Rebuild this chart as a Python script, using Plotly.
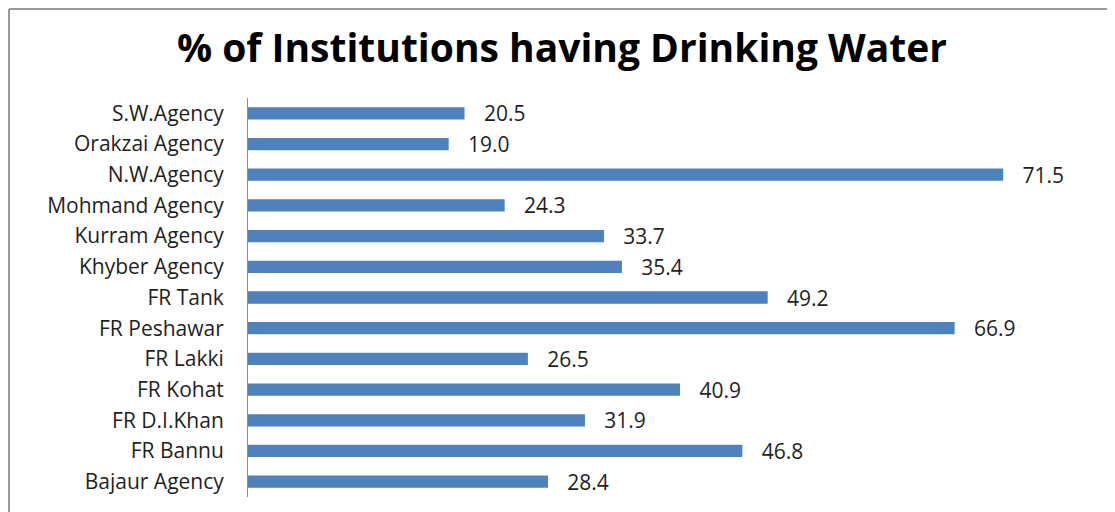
import plotly.graph_objects as go

categories = ["S.W.Agency", "Orakzai Agency", "N.W.Agency", "Mohmand Agency",
              "Kurram Agency", "Khyber Agency", "FR Tank", "FR Peshawar",
              "FR Lakki", "FR Kohat", "FR D.I.Khan", "FR Bannu", "Bajaur Agency"]
values = [20.5, 19.0, 71.5, 24.3, 33.7, 35.4, 49.2, 66.9, 26.5, 40.9, 31.9, 46.8, 28.4]
title_text = "% of Institutions having Drinking Water"

# page has an 8px body margin; figure sized to fill the rest of the window
W, H = 1107, 504
L, R, T, B = 240, 22, 90, 15
pw, ph = W - L - R, H - T - B
FONT = "Open Sans"
TXT = "#1f1f1f"

def px_x(x):
    return (x - L) / pw

def px_y(y):
    return (H - B - y) / ph

fig = go.Figure(go.Bar(
    x=values, y=categories, orientation="h",
    marker=dict(color="#4F81BD", line=dict(width=0)),
    width=0.4,
    text=values, texttemplate="\u00a0\u00a0\u00a0%{x:.1f}", textposition="outside",
    constraintext="none",
    textfont=dict(size=21, color=TXT, family=FONT),
    cliponaxis=False,
))

fig.update_layout(
    width=W, height=H,
    margin=dict(l=L, r=R, t=T, b=B),
    plot_bgcolor="white", paper_bgcolor="white",
    showlegend=False,
    title=dict(text=f"<b>{title_text}</b>", x=px_x(562 - 8), xanchor="center",
               xref="paper", y=1 - 40 / H, yanchor="middle",
               font=dict(size=39, color="#000000", family=FONT)),
    xaxis=dict(range=[0, 80], visible=False, showgrid=False, zeroline=False),
    yaxis=dict(autorange="reversed", showline=True, linecolor="#8c8c8c", linewidth=1,
               ticks="", showgrid=False, ticklabelstandoff=19,
               tickfont=dict(size=21, color=TXT, family=FONT)),
    shapes=[
        dict(type="line", xref="paper", yref="paper",
             x0=px_x(1), x1=px_x(1), y0=px_y(1), y1=px_y(H),
             line=dict(color="#9a9a9a", width=2)),
        dict(type="line", xref="paper", yref="paper",
             x0=px_x(1), x1=px_x(1106), y0=px_y(1), y1=px_y(1),
             line=dict(color="#9a9a9a", width=2)),
    ],
)

fig.write_html("out.html")
